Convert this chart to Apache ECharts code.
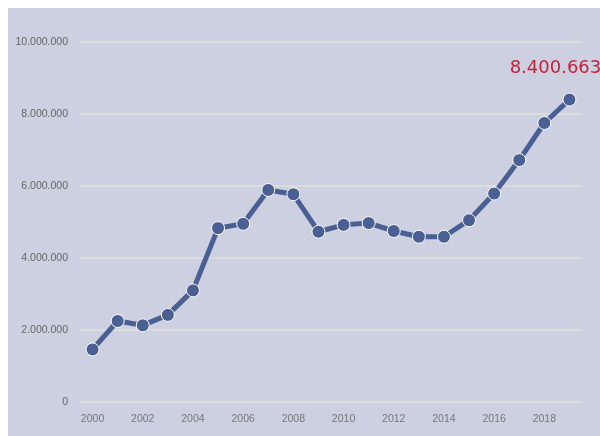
<!DOCTYPE html>
<html>
<head>
<meta charset="utf-8">
<style>
html, body { overflow: hidden; scrollbar-width: none; }
::-webkit-scrollbar { display: none; width: 0; height: 0; }
body { margin: 0; }
#chart { position: fixed; left: 8px; top: 8px; width: 600px; height: 436px; }
</style>
<script src="https://cdn.jsdelivr.net/npm/echarts@6/dist/echarts.min.js"></script>
</head>
<body>
<div id="chart"></div>
<script>
var years = ['2000','2001','2002','2003','2004','2005','2006','2007','2008','2009',
             '2010','2011','2012','2013','2014','2015','2016','2017','2018','2019'];
var values = [1460000, 2250000, 2130000, 2420000, 3100000, 4830000, 4950000, 5890000, 5770000, 4730000,
              4920000, 4970000, 4750000, 4590000, 4590000, 5050000, 5790000, 6720000, 7750000, 8400663];

function dots(v) {
    return String(Math.round(v)).replace(/\B(?=(\d{3})+(?!\d))/g, '.');
}

// only the last point gets its value written above it
var seriesData = values.map(function (v, i) {
    if (i === values.length - 1) {
        return {
            value: v,
            label: {
                show: true,
                position: 'top',
                distance: 15,
                offset: [-14, 0],
                formatter: function (p) { return dots(p.value); },
                color: '#c8203a',
                fontSize: 18,
                fontFamily: 'DejaVu Sans'
            }
        };
    }
    return v;
});

var myChart = echarts.init(document.getElementById('chart'));
myChart.setOption({
    backgroundColor: '#cdd0e0',
    animation: false,
    grid: { left: 72, right: 26, top: 34, bottom: 42 },
    xAxis: {
        type: 'category',
        data: years,
        axisLine: { show: false },
        axisTick: { show: false },
        axisLabel: {
            interval: 1,
            color: '#777',
            fontSize: 10.5,
            fontFamily: 'Liberation Sans',
            margin: 12
        }
    },
    yAxis: {
        type: 'value',
        min: 0,
        max: 10000000,
        interval: 2000000,
        axisLabel: {
            color: '#666',
            fontSize: 10.5,
            fontFamily: 'Liberation Sans',
            margin: 12,
            formatter: dots
        },
        splitLine: { lineStyle: { color: '#dcdcdc', width: 2 } }
    },
    series: [{
        type: 'line',
        data: seriesData,
        symbol: 'circle',
        symbolSize: 13,
        lineStyle: { color: '#4a5f94', width: 5 },
        itemStyle: { color: '#4a5f94', borderColor: '#ffffff', borderWidth: 1 }
    }]
});
</script>
</body>
</html>
